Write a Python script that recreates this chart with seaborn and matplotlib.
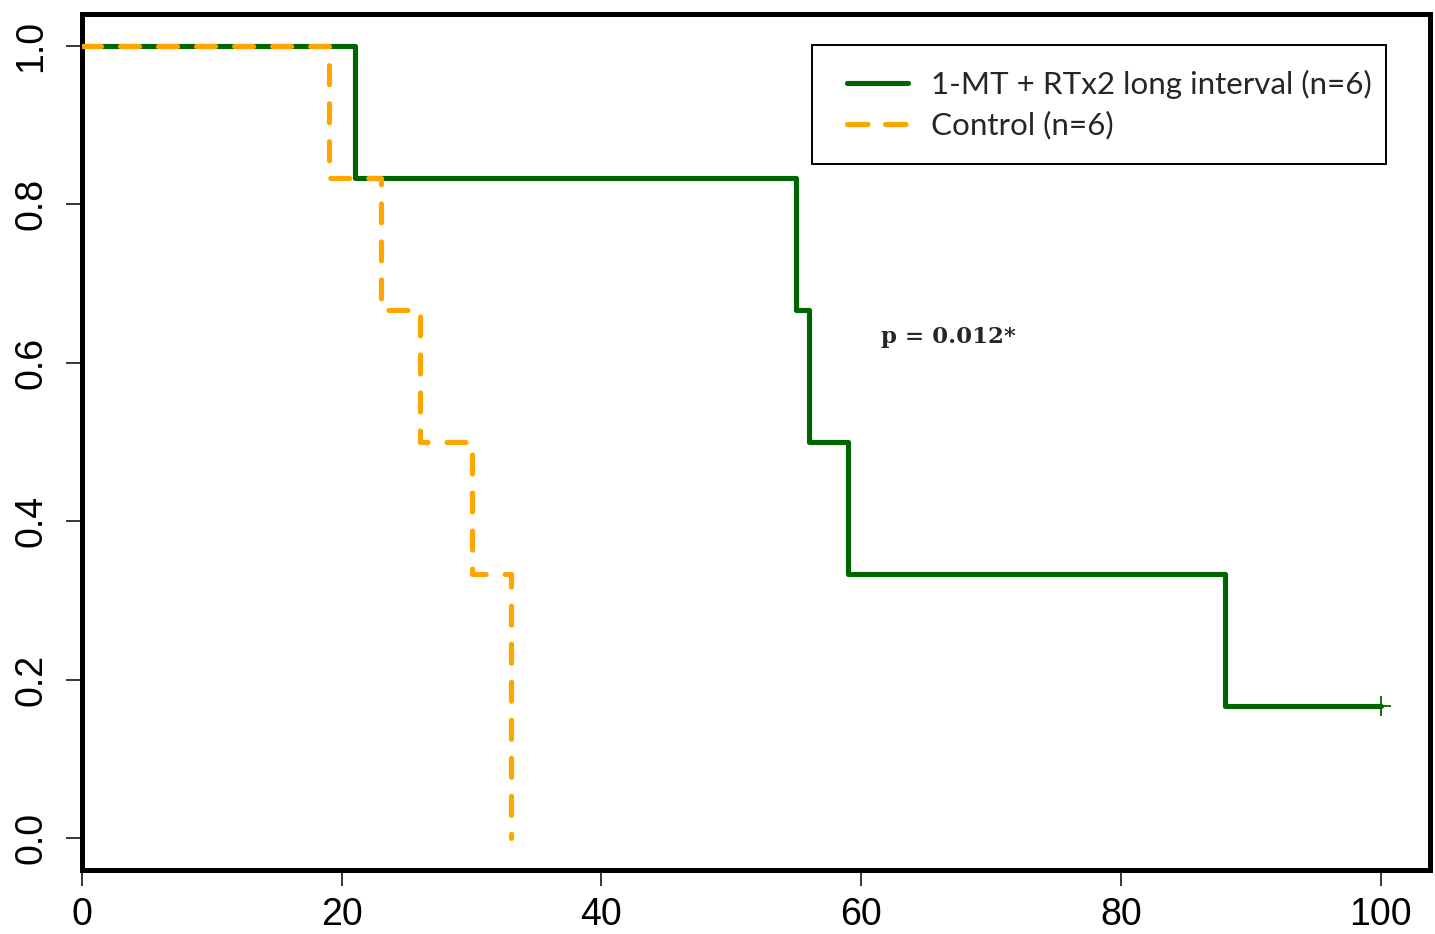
import numpy as np
import pandas as pd
import matplotlib
matplotlib.use("Agg")
import matplotlib.pyplot as plt
import seaborn as sb
from matplotlib.lines import Line2D
from matplotlib.legend_handler import HandlerLine2D

# Kaplan-Meier step values
treat_time = [0, 21, 55, 56, 59, 88, 100]
treat_surv = [1.0, 0.833, 0.667, 0.5, 0.333, 0.167, 0.167]
ctrl_time = [0, 19, 23, 26, 30, 33]
ctrl_surv = [1.0, 0.833, 0.667, 0.5, 0.333, 0.0]
censor_time = [100]
censor_surv = [0.167]

labels = ["1-MT + RTx2 long interval (n=6)", "Control (n=6)"]
p_text = "p = 0.012*"
x_ticks = [0, 20, 40, 60, 80, 100]
y_ticks = [0.0, 0.2, 0.4, 0.6, 0.8, 1.0]

green = "#006400"
orange = "#FFA500"

sb.set_theme(style="white")
plt.rcParams['font.family'] = ['Liberation Sans', 'DejaVu Sans']

treat = pd.DataFrame({"time": treat_time, "surv": treat_surv})
ctrl = pd.DataFrame({"time": ctrl_time, "surv": ctrl_surv})

fig = plt.figure(figsize=(14.35, 9.34), dpi=100)
ax = fig.add_axes([82 / 1435, 1 - 870 / 934, 1348 / 1435, 856 / 934])

sb.lineplot(data=treat, x="time", y="surv", ax=ax, color=green, lw=3.7,
            drawstyle="steps-post", estimator=None, sort=False, zorder=2)
sb.lineplot(data=ctrl, x="time", y="surv", ax=ax, color=orange, lw=3.7,
            drawstyle="steps-post", estimator=None, sort=False, zorder=3,
            dashes=False)
ctrl_line = ax.get_lines()[-1]
ctrl_line.set_linestyle((0, (3.7, 3.7)))
ctrl_line.set_dash_capstyle("round")

# censored observation
ax.plot(censor_time, censor_surv, marker="+", ms=14, mew=1.3, color=green, ls="none", zorder=4)

ax.set_xlim(0, 103.8)
ax.set_ylim(-0.04, 1.04)
ax.set_xticks(x_ticks)
ax.set_yticks(y_ticks)
ax.set_xticklabels([str(t) for t in x_ticks])
ax.set_yticklabels([f"{t:.1f}" for t in y_ticks])
ax.set_xlabel("")
ax.set_ylabel("")

ax.tick_params(axis="both", direction="out", length=11.5, width=1.1, color="black",
               labelsize=27, labelcolor="black", left=True, bottom=True)
ax.tick_params(axis="x", pad=8)
ax.tick_params(axis="y", pad=12)
for lab in ax.get_yticklabels():
    lab.set_rotation(90)
    lab.set_va("center")

for sp in ax.spines.values():
    sp.set_visible(True)
    sp.set_color("black")
    sp.set_linewidth(3.6)

h_green = Line2D([0], [0], color=green, lw=3.7, solid_capstyle="round")
h_orange = Line2D([0], [0], color=orange, lw=3.7, ls=(0, (4.0, 3.4)), dash_capstyle="round")
leg = ax.legend([h_green, h_orange], labels, loc="upper left",
                bbox_to_anchor=(730 / 1348, 825 / 856, 574 / 1348, 0.0),
                mode="expand", prop={"family": "Lato", "size": 22.6},
                frameon=True, fancybox=False, edgecolor="black", framealpha=1,
                handlelength=2.28, handletextpad=0.73, borderpad=0.78,
                labelspacing=0.4, borderaxespad=0,
                handler_map={Line2D: HandlerLine2D(xpad=0.33)})
leg.get_frame().set_linewidth(1.4)

ax.text(0.593, 0.623, p_text, transform=ax.transAxes, fontsize=16.5,
        fontweight="bold", family="DejaVu Serif", ha="left", va="center")

fig.savefig("out.png", dpi=100)
